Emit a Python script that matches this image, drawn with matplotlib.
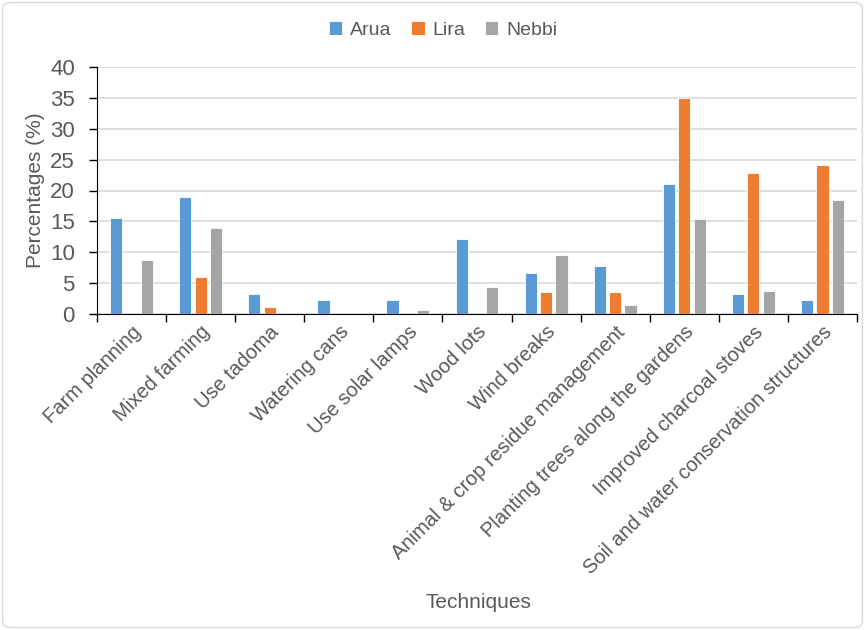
import matplotlib
matplotlib.use("Agg")
import matplotlib.pyplot as plt
import numpy as np
from matplotlib.patches import FancyBboxPatch

plt.rcParams['font.family'] = ['Liberation Sans', 'DejaVu Sans']

categories = ["Farm planning", "Mixed farming", "Use tadoma", "Watering cans",
              "Use solar lamps", "Wood lots", "Wind breaks",
              "Animal & crop residue management", "Planting trees along the gardens",
              "Improved charcoal stoves", "Soil and water conservation structures"]
arua = [15.6, 18.9, 3.3, 2.2, 2.2, 12.2, 6.7, 7.8, 21.1, 3.3, 2.2]
lira = [0, 6.0, 1.2, 0, 0, 0, 3.6, 3.6, 34.9, 22.9, 24.1]
nebbi = [8.8, 14.0, 0, 0, 0.7, 4.4, 9.6, 1.5, 15.4, 3.7, 18.4]
series_names = ["Arua", "Lira", "Nebbi"]
colors = ["#5B9BD5", "#ED7D31", "#A5A5A5"]
yticks = [0, 5, 10, 15, 20, 25, 30, 35, 40]

txt = "#595959"
fs = 15
fig = plt.figure(figsize=(8.65, 6.3), dpi=100)
ax = fig.add_axes([97/865, 1-314/630, 760/865, 247/630])

x = np.arange(len(categories))
w = 0.176
step = 0.222
for i, (vals, name, c) in enumerate(zip([arua, lira, nebbi], series_names, colors)):
    ax.bar(x + (i-1)*step, vals, width=w, color=c, label=name,
           edgecolor='white', linewidth=0.6, zorder=3)

ax.set_xlim(-0.5, len(categories)-0.5)
ax.set_ylim(0, 40)
ax.set_yticks(yticks)
ax.set_yticklabels([str(t) for t in yticks], fontsize=16, color=txt)
ax.yaxis.grid(True, color='#D9D9D9', linewidth=1.2, zorder=0)
ax.set_axisbelow(True)

ax.set_xticks(np.arange(-0.5, len(categories), 1.0), minor=False)
ax.set_xticklabels([])
ax.tick_params(axis='x', which='major', length=6, direction='out', color='black', width=1)
ax.set_xticks(x, minor=True)
ax.set_xticklabels(categories, minor=True, rotation=45, ha='right', va='top',
                   rotation_mode='anchor', fontsize=14.5, color=txt)
ax.tick_params(axis='x', which='minor', length=0, pad=6)
ax.tick_params(axis='y', length=6, direction='out', color='black', width=1, pad=10)

for s in ['top', 'right']:
    ax.spines[s].set_visible(False)
ax.spines['left'].set_color('black')
ax.spines['bottom'].set_color('black')

fig.text(36/865, 1-190/630, "Percentages (%)", fontsize=fs, color=txt, ha='center', va='center',
         rotation=90)
fig.text(478/865, 1-603/630, "Techniques", fontsize=fs, color=txt, ha='center', va='center')

leg = fig.legend(loc='center', bbox_to_anchor=(443/865, 1-30/630), ncol=3, frameon=False,
                 fontsize=14, handlelength=0.7, handleheight=0.7, handletextpad=0.4,
                 columnspacing=1.0, labelcolor=txt)

border = FancyBboxPatch((0.003, 0.004), 0.994, 0.992, boxstyle="round,pad=0,rounding_size=0.01",
                        transform=fig.transFigure, fill=False, edgecolor='#D9D9D9', linewidth=1)
fig.patches.append(border)

fig.savefig("out.png", dpi=100)
